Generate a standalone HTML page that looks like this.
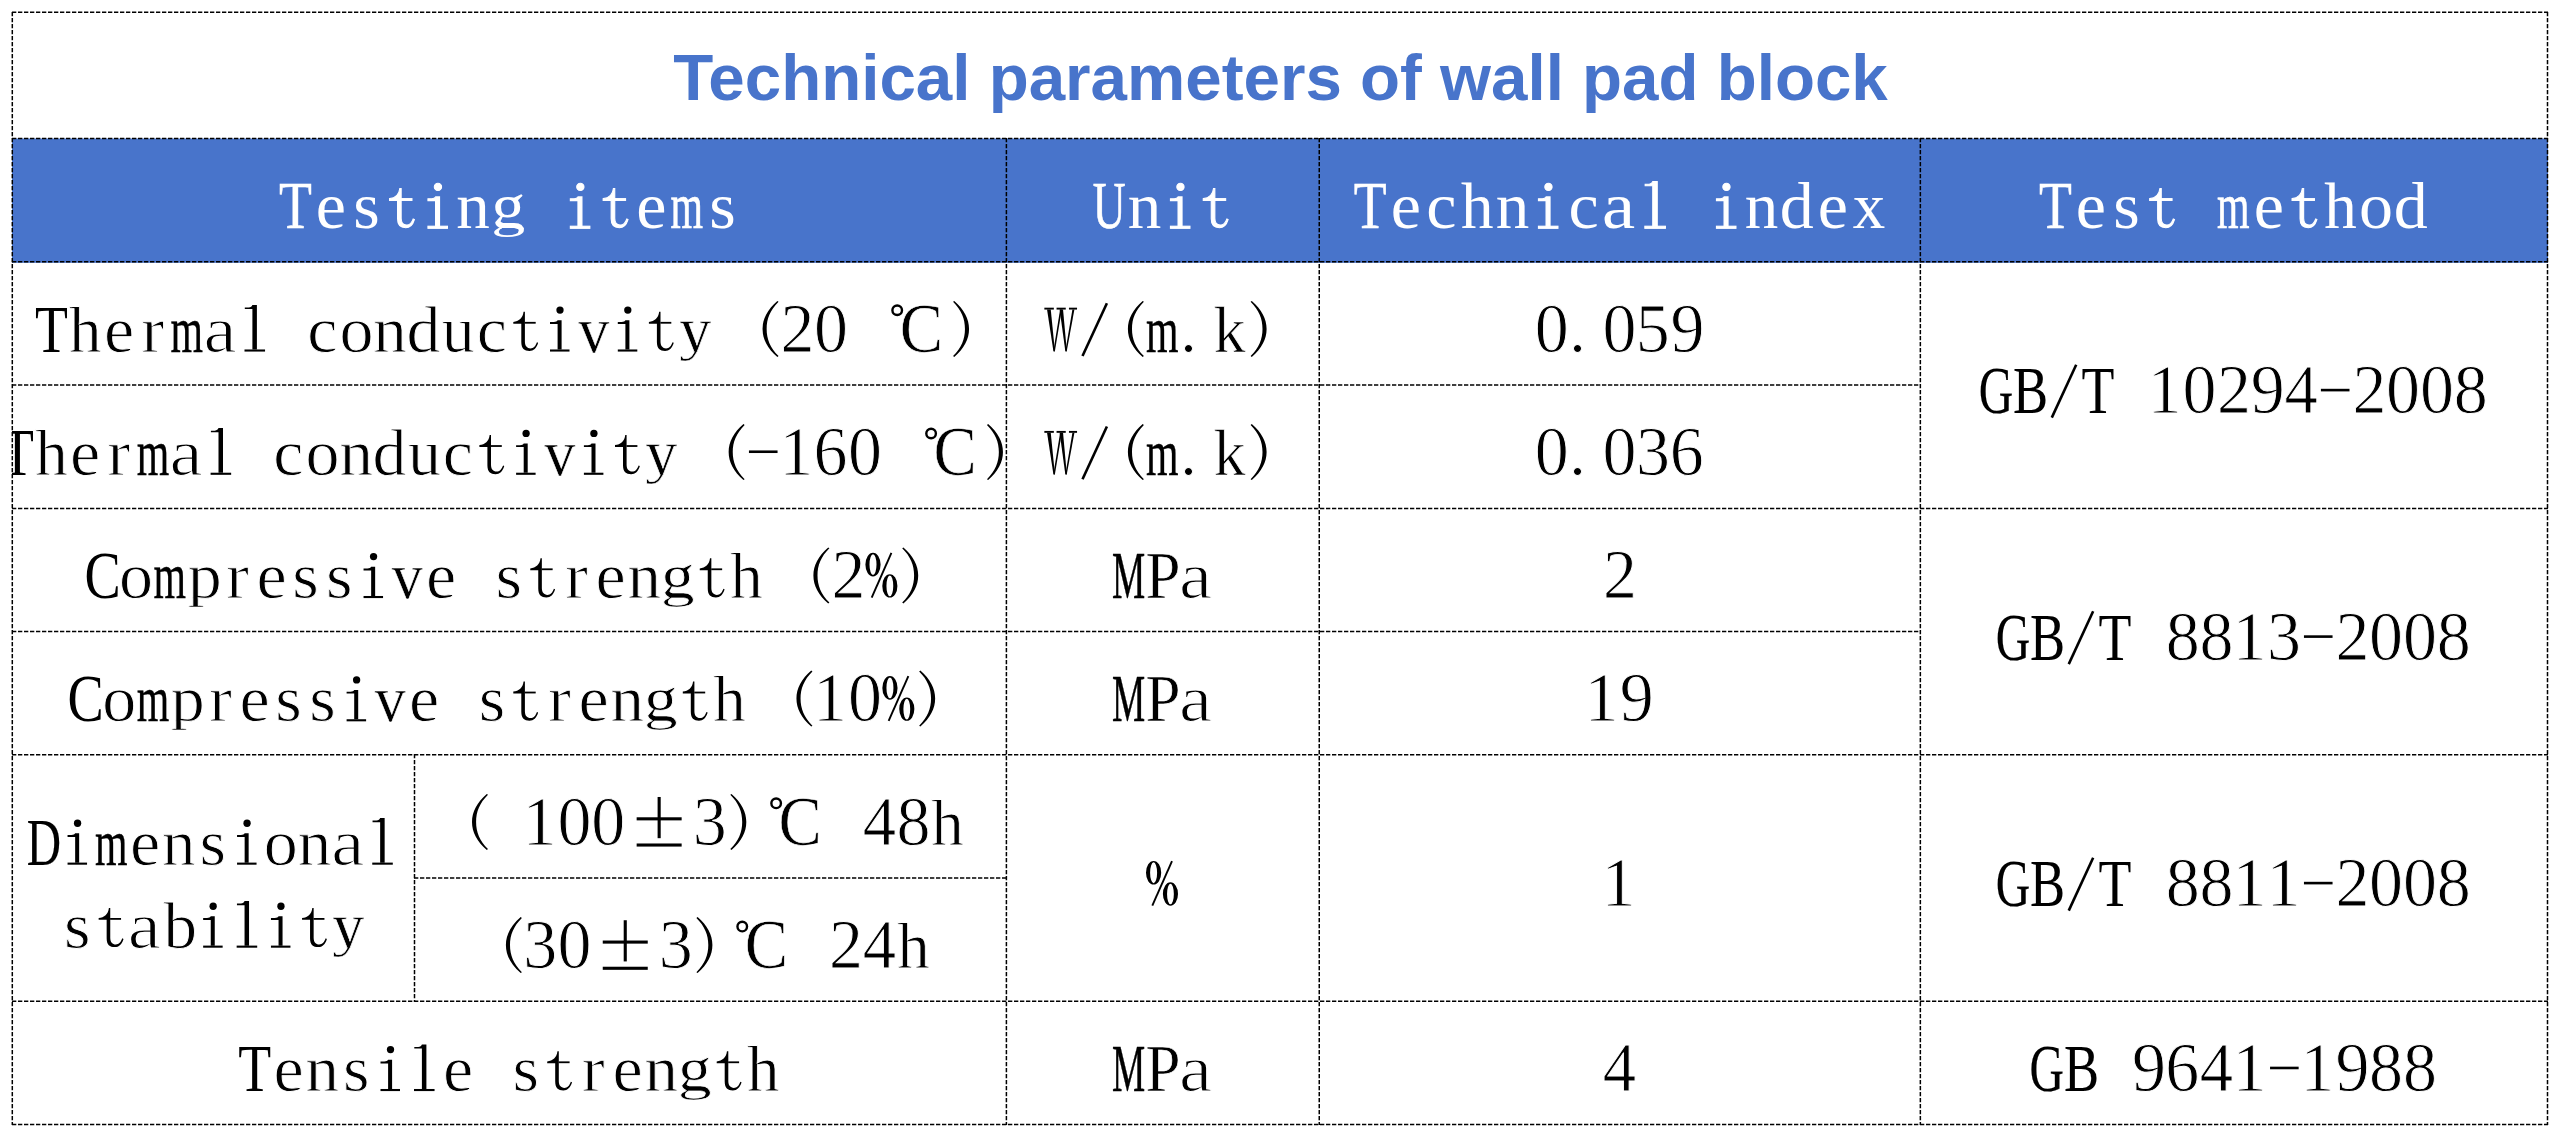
<!DOCTYPE html>
<html><head><meta charset="utf-8"><title>Technical parameters of wall pad block</title>
<style>
html,body{margin:0;padding:0;background:#fff;}
body{width:2560px;height:1137px;overflow:hidden;position:relative;}
svg{position:absolute;left:0;top:0;display:block;}
svg text{font-family:"Liberation Serif", serif;}
svg text.t{font-family:"Liberation Sans", sans-serif;}
</style></head>
<body>
<svg width="2560" height="1137" viewBox="0 0 2560 1137">
<rect x="12" y="138.5" width="2536" height="124.3" fill="#4874CB"/>
<defs><clipPath id="c0"><rect x="12" y="0" width="2548" height="1137"/></clipPath><clipPath id="cl6u"><rect x="469.00" y="148.32" width="80" height="80.7"/></clipPath><clipPath id="cl6d"><rect x="469.00" y="227.62" width="80" height="40"/></clipPath><clipPath id="cl58u"><rect x="655.45" y="271.57" width="80" height="80.7"/></clipPath><clipPath id="cl58d"><rect x="655.45" y="350.88" width="80" height="40"/></clipPath><clipPath id="cl95u"><rect x="621.55" y="394.82" width="80" height="80.7"/></clipPath><clipPath id="cl95d"><rect x="621.55" y="474.12" width="80" height="40"/></clipPath><clipPath id="cl119u"><rect x="163.90" y="518.08" width="80" height="80.7"/></clipPath><clipPath id="cl119d"><rect x="163.90" y="597.38" width="80" height="40"/></clipPath><clipPath id="cl132u"><rect x="638.50" y="518.08" width="80" height="80.7"/></clipPath><clipPath id="cl132d"><rect x="638.50" y="597.38" width="80" height="40"/></clipPath><clipPath id="cl146u"><rect x="146.95" y="641.33" width="80" height="80.7"/></clipPath><clipPath id="cl146d"><rect x="146.95" y="720.62" width="80" height="40"/></clipPath><clipPath id="cl159u"><rect x="621.55" y="641.33" width="80" height="80.7"/></clipPath><clipPath id="cl159d"><rect x="621.55" y="720.62" width="80" height="40"/></clipPath><clipPath id="cl184u"><rect x="655.45" y="1011.08" width="80" height="80.7"/></clipPath><clipPath id="cl184d"><rect x="655.45" y="1090.38" width="80" height="40"/></clipPath><clipPath id="cl261u"><rect x="308.60" y="867.70" width="80" height="80.7"/></clipPath><clipPath id="cl261d"><rect x="308.60" y="947.00" width="80" height="40"/></clipPath></defs>
<g class="t"><text class="t" x="1280.5" y="100.4" text-anchor="middle" font-family="'Liberation Sans', sans-serif" font-weight="bold" font-size="65.5" fill="#4874CB">Technical parameters of wall pad block</text></g>
<g clip-path="url(#c0)">
<text transform="translate(278.93,228.32) scale(0.7912,1.0)" font-size="68.00" fill="#ffffff" stroke="#ffffff" stroke-width="0.52">T</text>
<text transform="translate(315.76,228.32) scale(1.0000,0.96)" font-size="68.00" fill="#ffffff">e</text>
<text transform="translate(353.20,228.32) scale(1.0000,0.96)" font-size="68.00" fill="#ffffff">s</text>
<g stroke="#ffffff" stroke-width="1.1"><path d="M401.15,188.52 L401.15,218.32 C401.15,222.82 403.40,225.12 406.70,225.12 C409.80,225.12 411.80,222.72 413.20,218.92 L414.40,219.52 C412.80,224.92 409.80,227.72 405.70,227.72 C400.60,227.72 397.55,225.52 397.55,218.82 L397.55,200.42 L389.55,200.42 L389.55,198.62 C395.20,198.02 399.10,194.82 399.80,188.52Z" fill="#ffffff"/><rect x="401.00" y="198.62" width="10.95" height="1.8" fill="#ffffff"/></g>
<g stroke="#ffffff" stroke-width="1.1"><path d="M439.55,196.92 L439.55,226.32 L435.55,226.32 L435.55,200.62 L427.95,200.62 L427.95,198.72 L431.80,198.72 C433.80,198.52 435.00,197.82 435.55,196.92Z" fill="#ffffff"/><rect x="427.95" y="226.22" width="19.5" height="2.1" fill="#ffffff"/><circle cx="437.95" cy="186.88" r="3.65" fill="#ffffff"/></g>
<text transform="translate(456.36,228.32) scale(0.9869,0.96)" font-size="68.00" fill="#ffffff">n</text>
<g clip-path="url(#cl6u)"><text transform="translate(491.19,228.32) scale(1.0000,0.96)" font-size="68.00" fill="#ffffff">g</text></g><g clip-path="url(#cl6d)"><text transform="translate(491.19,228.32) scale(1.0000,0.64)" font-size="68.00" fill="#ffffff">g</text></g>
<g stroke="#ffffff" stroke-width="1.1"><path d="M581.95,196.92 L581.95,226.32 L577.95,226.32 L577.95,200.62 L570.35,200.62 L570.35,198.72 L574.20,198.72 C576.20,198.52 577.40,197.82 577.95,196.92Z" fill="#ffffff"/><rect x="570.35" y="226.22" width="19.5" height="2.1" fill="#ffffff"/><circle cx="580.35" cy="186.88" r="3.65" fill="#ffffff"/></g>
<g stroke="#ffffff" stroke-width="1.1"><path d="M614.75,188.52 L614.75,218.32 C614.75,222.82 617.00,225.12 620.30,225.12 C623.40,225.12 625.40,222.72 626.80,218.92 L628.00,219.52 C626.40,224.92 623.40,227.72 619.30,227.72 C614.20,227.72 611.15,225.52 611.15,218.82 L611.15,200.42 L603.15,200.42 L603.15,198.62 C608.80,198.02 612.70,194.82 613.40,188.52Z" fill="#ffffff"/><rect x="614.60" y="198.62" width="10.95" height="1.8" fill="#ffffff"/></g>
<text transform="translate(636.16,228.32) scale(1.0000,0.96)" font-size="68.00" fill="#ffffff">e</text>
<text transform="translate(670.62,228.32) scale(0.6151,0.96)" font-size="68.00" fill="#ffffff" stroke="#ffffff" stroke-width="0.70">m</text>
<text transform="translate(709.20,228.32) scale(1.0000,0.96)" font-size="68.00" fill="#ffffff">s</text>
<text transform="translate(1092.64,228.32) scale(0.6702,1.0)" font-size="68.00" fill="#ffffff" stroke="#ffffff" stroke-width="0.70">U</text>
<text transform="translate(1127.66,228.32) scale(0.9869,0.96)" font-size="68.00" fill="#ffffff">n</text>
<g stroke="#ffffff" stroke-width="1.1"><path d="M1182.05,196.92 L1182.05,226.32 L1178.05,226.32 L1178.05,200.62 L1170.45,200.62 L1170.45,198.72 L1174.30,198.72 C1176.30,198.52 1177.50,197.82 1178.05,196.92Z" fill="#ffffff"/><rect x="1170.45" y="226.22" width="19.5" height="2.1" fill="#ffffff"/><circle cx="1180.45" cy="186.88" r="3.65" fill="#ffffff"/></g>
<g stroke="#ffffff" stroke-width="1.1"><path d="M1214.85,188.52 L1214.85,218.32 C1214.85,222.82 1217.10,225.12 1220.40,225.12 C1223.50,225.12 1225.50,222.72 1226.90,218.92 L1228.10,219.52 C1226.50,224.92 1223.50,227.72 1219.40,227.72 C1214.30,227.72 1211.25,225.52 1211.25,218.82 L1211.25,200.42 L1203.25,200.42 L1203.25,198.62 C1208.90,198.02 1212.80,194.82 1213.50,188.52Z" fill="#ffffff"/><rect x="1214.70" y="198.62" width="10.95" height="1.8" fill="#ffffff"/></g>
<text transform="translate(1353.83,228.32) scale(0.7912,1.0)" font-size="68.00" fill="#ffffff" stroke="#ffffff" stroke-width="0.52">T</text>
<text transform="translate(1390.66,228.32) scale(1.0000,0.96)" font-size="68.00" fill="#ffffff">e</text>
<text transform="translate(1426.16,228.32) scale(1.0000,0.96)" font-size="68.00" fill="#ffffff">c</text>
<text transform="translate(1460.97,228.32) scale(0.9556,0.96)" font-size="68.00" fill="#ffffff" stroke="#ffffff" stroke-width="0.09">h</text>
<text transform="translate(1495.66,228.32) scale(0.9869,0.96)" font-size="68.00" fill="#ffffff">n</text>
<g stroke="#ffffff" stroke-width="1.1"><path d="M1550.05,196.92 L1550.05,226.32 L1546.05,226.32 L1546.05,200.62 L1538.45,200.62 L1538.45,198.72 L1542.30,198.72 C1544.30,198.52 1545.50,197.82 1546.05,196.92Z" fill="#ffffff"/><rect x="1538.45" y="226.22" width="19.5" height="2.1" fill="#ffffff"/><circle cx="1548.45" cy="186.88" r="3.65" fill="#ffffff"/></g>
<text transform="translate(1568.56,228.32) scale(1.0000,0.96)" font-size="68.00" fill="#ffffff">c</text>
<text transform="translate(1602.12,228.32) scale(1.0982,0.96)" font-size="68.00" fill="#ffffff">a</text>
<g stroke="#ffffff" stroke-width="1.1"><path d="M1657.25,181.62 L1657.25,226.32 L1652.75,226.32 L1652.75,185.82 L1645.15,185.82 L1645.15,184.22 L1649.10,184.22 C1651.10,183.92 1652.20,183.02 1652.75,181.62Z" fill="#ffffff"/><rect x="1644.85" y="226.22" width="20.55" height="2.1" fill="#ffffff"/></g>
<g stroke="#ffffff" stroke-width="1.1"><path d="M1728.05,196.92 L1728.05,226.32 L1724.05,226.32 L1724.05,200.62 L1716.45,200.62 L1716.45,198.72 L1720.30,198.72 C1722.30,198.52 1723.50,197.82 1724.05,196.92Z" fill="#ffffff"/><rect x="1716.45" y="226.22" width="19.5" height="2.1" fill="#ffffff"/><circle cx="1726.45" cy="186.88" r="3.65" fill="#ffffff"/></g>
<text transform="translate(1744.86,228.32) scale(0.9869,0.96)" font-size="68.00" fill="#ffffff">n</text>
<text transform="translate(1779.69,228.32) scale(1.0000,0.96)" font-size="68.00" fill="#ffffff">d</text>
<text transform="translate(1817.86,228.32) scale(1.0000,0.96)" font-size="68.00" fill="#ffffff">e</text>
<text transform="translate(1852.63,228.32) scale(0.9517,0.96)" font-size="68.00" fill="#ffffff" stroke="#ffffff" stroke-width="0.10">x</text>
<text transform="translate(2039.03,228.32) scale(0.7912,1.0)" font-size="68.00" fill="#ffffff" stroke="#ffffff" stroke-width="0.52">T</text>
<text transform="translate(2075.86,228.32) scale(1.0000,0.96)" font-size="68.00" fill="#ffffff">e</text>
<text transform="translate(2113.30,228.32) scale(1.0000,0.96)" font-size="68.00" fill="#ffffff">s</text>
<g stroke="#ffffff" stroke-width="1.1"><path d="M2161.25,188.52 L2161.25,218.32 C2161.25,222.82 2163.50,225.12 2166.80,225.12 C2169.90,225.12 2171.90,222.72 2173.30,218.92 L2174.50,219.52 C2172.90,224.92 2169.90,227.72 2165.80,227.72 C2160.70,227.72 2157.65,225.52 2157.65,218.82 L2157.65,200.42 L2149.65,200.42 L2149.65,198.62 C2155.30,198.02 2159.20,194.82 2159.90,188.52Z" fill="#ffffff"/><rect x="2161.10" y="198.62" width="10.95" height="1.8" fill="#ffffff"/></g>
<text transform="translate(2217.12,228.32) scale(0.6151,0.96)" font-size="68.00" fill="#ffffff" stroke="#ffffff" stroke-width="0.70">m</text>
<text transform="translate(2253.86,228.32) scale(1.0000,0.96)" font-size="68.00" fill="#ffffff">e</text>
<g stroke="#ffffff" stroke-width="1.1"><path d="M2303.65,188.52 L2303.65,218.32 C2303.65,222.82 2305.90,225.12 2309.20,225.12 C2312.30,225.12 2314.30,222.72 2315.70,218.92 L2316.90,219.52 C2315.30,224.92 2312.30,227.72 2308.20,227.72 C2303.10,227.72 2300.05,225.52 2300.05,218.82 L2300.05,200.42 L2292.05,200.42 L2292.05,198.62 C2297.70,198.02 2301.60,194.82 2302.30,188.52Z" fill="#ffffff"/><rect x="2303.50" y="198.62" width="10.95" height="1.8" fill="#ffffff"/></g>
<text transform="translate(2324.17,228.32) scale(0.9556,0.96)" font-size="68.00" fill="#ffffff" stroke="#ffffff" stroke-width="0.09">h</text>
<text transform="translate(2358.90,228.32) scale(1.0000,0.96)" font-size="68.00" fill="#ffffff">o</text>
<text transform="translate(2393.69,228.32) scale(1.0000,0.96)" font-size="68.00" fill="#ffffff">d</text>
<text transform="translate(34.88,351.57) scale(0.7912,1.0)" font-size="68.00" fill="#000">T</text>
<text transform="translate(69.12,351.57) scale(0.9556,0.96)" font-size="68.00" fill="#000" stroke="#fff" stroke-width="0.79">h</text>
<text transform="translate(103.91,351.57) scale(1.0000,0.96)" font-size="68.00" fill="#000" stroke="#fff" stroke-width="0.90">e</text>
<text transform="translate(141.17,351.57) scale(1.0152,0.96)" font-size="68.00" fill="#000" stroke="#fff" stroke-width="1.07">r</text>
<text transform="translate(170.57,351.57) scale(0.6151,0.96)" font-size="68.00" fill="#000" stroke="#000" stroke-width="0.41">m</text>
<text transform="translate(203.47,351.57) scale(1.0982,0.96)" font-size="68.00" fill="#000" stroke="#fff" stroke-width="1.30">a</text>
<path d="M256.90,304.88 L256.90,349.57 L252.40,349.57 L252.40,309.07 L244.80,309.07 L244.80,307.47 L248.75,307.47 C250.75,307.18 251.85,306.27 252.40,304.88Z" fill="#000"/><rect x="244.50" y="349.47" width="20.55" height="2.1" fill="#000"/>
<text transform="translate(307.21,351.57) scale(1.0000,0.96)" font-size="68.00" fill="#000" stroke="#fff" stroke-width="0.90">c</text>
<text transform="translate(339.45,351.57) scale(1.0000,0.96)" font-size="68.00" fill="#000" stroke="#fff" stroke-width="0.90">o</text>
<text transform="translate(373.31,351.57) scale(0.9869,0.96)" font-size="68.00" fill="#000" stroke="#fff" stroke-width="0.90">n</text>
<text transform="translate(406.44,351.57) scale(1.0000,0.96)" font-size="68.00" fill="#000" stroke="#fff" stroke-width="0.90">d</text>
<text transform="translate(441.78,351.57) scale(0.9705,0.96)" font-size="68.00" fill="#000" stroke="#fff" stroke-width="0.86">u</text>
<text transform="translate(476.71,351.57) scale(1.0000,0.96)" font-size="68.00" fill="#000" stroke="#fff" stroke-width="0.90">c</text>
<path d="M524.90,311.77 L524.90,341.57 C524.90,346.07 527.15,348.38 530.45,348.38 C533.55,348.38 535.55,345.97 536.95,342.18 L538.15,342.77 C536.55,348.18 533.55,350.97 529.45,350.97 C524.35,350.97 521.30,348.77 521.30,342.07 L521.30,323.68 L513.30,323.68 L513.30,321.88 C518.95,321.27 522.85,318.07 523.55,311.77Z" fill="#000"/><rect x="524.75" y="321.88" width="10.95" height="1.8" fill="#000"/>
<path d="M561.60,320.18 L561.60,349.57 L557.60,349.57 L557.60,323.88 L550.00,323.88 L550.00,321.97 L553.85,321.97 C555.85,321.77 557.05,321.07 557.60,320.18Z" fill="#000"/><rect x="550.00" y="349.47" width="19.5" height="2.1" fill="#000"/><circle cx="560.00" cy="310.12" r="3.65" fill="#000"/>
<text transform="translate(578.25,351.57) scale(0.9118,0.96)" font-size="68.00" fill="#000" stroke="#fff" stroke-width="0.55">v</text>
<path d="M629.40,320.18 L629.40,349.57 L625.40,349.57 L625.40,323.88 L617.80,323.88 L617.80,321.97 L621.65,321.97 C623.65,321.77 624.85,321.07 625.40,320.18Z" fill="#000"/><rect x="617.80" y="349.47" width="19.5" height="2.1" fill="#000"/><circle cx="627.80" cy="310.12" r="3.65" fill="#000"/>
<path d="M660.50,311.77 L660.50,341.57 C660.50,346.07 662.75,348.38 666.05,348.38 C669.15,348.38 671.15,345.97 672.55,342.18 L673.75,342.77 C672.15,348.18 669.15,350.97 665.05,350.97 C659.95,350.97 656.90,348.77 656.90,342.07 L656.90,323.68 L648.90,323.68 L648.90,321.88 C654.55,321.27 658.45,318.07 659.15,311.77Z" fill="#000"/><rect x="660.35" y="321.88" width="10.95" height="1.8" fill="#000"/>
<g clip-path="url(#cl58u)"><text transform="translate(679.17,351.57) scale(0.9421,0.96)" font-size="68.00" fill="#000" stroke="#fff" stroke-width="0.72">y</text></g><g clip-path="url(#cl58d)"><text transform="translate(679.17,351.57) scale(0.9421,0.64)" font-size="68.00" fill="#000" stroke="#fff" stroke-width="0.72">y</text></g>
<path d="M777.35,300.88 C767.45,309.57 762.55,318.57 762.55,328.88 C762.55,339.18 767.45,348.18 777.35,356.88 L778.55,355.97 C770.05,347.57 766.65,338.88 766.65,328.88 C766.65,318.88 770.05,310.18 778.55,301.77Z" fill="#000"/>
<text transform="translate(780.53,351.57) scale(1.0000,1.025)" font-size="68.00" fill="#000" stroke="#fff" stroke-width="0.90">2</text>
<text transform="translate(814.05,351.57) scale(1.0000,1.025)" font-size="68.00" fill="#000" stroke="#fff" stroke-width="0.90">0</text>
<circle cx="897.20" cy="310.27" r="4.8" fill="none" stroke="#000" stroke-width="2.4"/>
<text transform="translate(899.64,351.57) scale(0.9210,1.0)" font-size="70.38" fill="#000" stroke="#fff" stroke-width="0.61">C</text>
<path d="M954.25,300.88 C964.15,309.57 969.05,318.57 969.05,328.88 C969.05,339.18 964.15,348.18 954.25,356.88 L953.05,355.97 C961.55,347.57 964.95,338.88 964.95,328.88 C964.95,318.88 961.55,310.18 953.05,301.77Z" fill="#000"/>
<path d="M1047.05,309.57 L1050.75,309.57 L1054.90,350.97 L1054.15,351.88 L1053.40,350.97Z" fill="#000"/><path d="M1053.50,350.38 L1060.10,309.57 L1061.80,309.57 L1054.90,350.97Z" fill="#000"/><path d="M1059.65,309.57 L1063.05,309.57 L1066.80,350.97 L1066.05,351.88 L1065.30,350.97Z" fill="#000"/><path d="M1065.50,350.57 L1072.40,309.57 L1074.40,309.57 L1066.80,350.97Z" fill="#000"/><path d="M1044.35,307.68 L1053.85,307.68 L1053.85,309.57 L1044.35,309.57Z" fill="#000"/><path d="M1056.55,307.68 L1065.75,307.68 L1065.75,309.57 L1056.55,309.57Z" fill="#000"/><path d="M1068.95,307.68 L1077.05,307.68 L1077.05,309.57 L1068.95,309.57Z" fill="#000"/>
<line x1="1082.50" y1="355.97" x2="1106.90" y2="303.18" stroke="#000" stroke-width="2.6"/>
<path d="M1142.70,300.88 C1132.80,309.57 1127.90,318.57 1127.90,328.88 C1127.90,339.18 1132.80,348.18 1142.70,356.88 L1143.90,355.97 C1135.40,347.57 1132.00,338.88 1132.00,328.88 C1132.00,318.88 1135.40,310.18 1143.90,301.77Z" fill="#000"/>
<text transform="translate(1146.12,351.57) scale(0.6151,0.96)" font-size="68.00" fill="#000" stroke="#000" stroke-width="0.41">m</text>
<text x="1179.90" y="351.57" font-size="68.00" fill="#000" stroke="#fff" stroke-width="0.90">.</text>
<text transform="translate(1213.57,351.57) scale(0.9479,0.96)" font-size="68.00" fill="#000" stroke="#fff" stroke-width="0.75">k</text>
<path d="M1251.80,300.88 C1261.70,309.57 1266.60,318.57 1266.60,328.88 C1266.60,339.18 1261.70,348.18 1251.80,356.88 L1250.60,355.97 C1259.10,347.57 1262.50,338.88 1262.50,328.88 C1262.50,318.88 1259.10,310.18 1250.60,301.77Z" fill="#000"/>
<text transform="translate(1534.70,351.57) scale(1.0000,1.025)" font-size="68.00" fill="#000" stroke="#fff" stroke-width="0.90">0</text>
<text x="1569.10" y="351.57" font-size="68.00" fill="#000" stroke="#fff" stroke-width="0.90">.</text>
<text transform="translate(1602.50,351.57) scale(1.0000,1.025)" font-size="68.00" fill="#000" stroke="#fff" stroke-width="0.90">0</text>
<text transform="translate(1635.75,351.57) scale(1.0000,1.025)" font-size="68.00" fill="#000" stroke="#fff" stroke-width="0.90">5</text>
<text transform="translate(1670.60,351.57) scale(1.0000,1.025)" font-size="68.00" fill="#000" stroke="#fff" stroke-width="0.90">9</text>
<text transform="translate(0.98,474.82) scale(0.7912,1.0)" font-size="68.00" fill="#000">T</text>
<text transform="translate(35.22,474.82) scale(0.9556,0.96)" font-size="68.00" fill="#000" stroke="#fff" stroke-width="0.79">h</text>
<text transform="translate(70.01,474.82) scale(1.0000,0.96)" font-size="68.00" fill="#000" stroke="#fff" stroke-width="0.90">e</text>
<text transform="translate(107.27,474.82) scale(1.0152,0.96)" font-size="68.00" fill="#000" stroke="#fff" stroke-width="1.07">r</text>
<text transform="translate(136.67,474.82) scale(0.6151,0.96)" font-size="68.00" fill="#000" stroke="#000" stroke-width="0.41">m</text>
<text transform="translate(169.57,474.82) scale(1.0982,0.96)" font-size="68.00" fill="#000" stroke="#fff" stroke-width="1.30">a</text>
<path d="M223.00,428.12 L223.00,472.82 L218.50,472.82 L218.50,432.32 L210.90,432.32 L210.90,430.72 L214.85,430.72 C216.85,430.43 217.95,429.52 218.50,428.12Z" fill="#000"/><rect x="210.60" y="472.72" width="20.55" height="2.1" fill="#000"/>
<text transform="translate(273.31,474.82) scale(1.0000,0.96)" font-size="68.00" fill="#000" stroke="#fff" stroke-width="0.90">c</text>
<text transform="translate(305.55,474.82) scale(1.0000,0.96)" font-size="68.00" fill="#000" stroke="#fff" stroke-width="0.90">o</text>
<text transform="translate(339.41,474.82) scale(0.9869,0.96)" font-size="68.00" fill="#000" stroke="#fff" stroke-width="0.90">n</text>
<text transform="translate(372.54,474.82) scale(1.0000,0.96)" font-size="68.00" fill="#000" stroke="#fff" stroke-width="0.90">d</text>
<text transform="translate(407.88,474.82) scale(0.9705,0.96)" font-size="68.00" fill="#000" stroke="#fff" stroke-width="0.86">u</text>
<text transform="translate(442.81,474.82) scale(1.0000,0.96)" font-size="68.00" fill="#000" stroke="#fff" stroke-width="0.90">c</text>
<path d="M491.00,435.02 L491.00,464.82 C491.00,469.32 493.25,471.62 496.55,471.62 C499.65,471.62 501.65,469.22 503.05,465.43 L504.25,466.02 C502.65,471.43 499.65,474.22 495.55,474.22 C490.45,474.22 487.40,472.02 487.40,465.32 L487.40,446.93 L479.40,446.93 L479.40,445.12 C485.05,444.52 488.95,441.32 489.65,435.02Z" fill="#000"/><rect x="490.85" y="445.12" width="10.95" height="1.8" fill="#000"/>
<path d="M527.70,443.43 L527.70,472.82 L523.70,472.82 L523.70,447.12 L516.10,447.12 L516.10,445.22 L519.95,445.22 C521.95,445.02 523.15,444.32 523.70,443.43Z" fill="#000"/><rect x="516.10" y="472.72" width="19.5" height="2.1" fill="#000"/><circle cx="526.10" cy="433.38" r="3.65" fill="#000"/>
<text transform="translate(544.35,474.82) scale(0.9118,0.96)" font-size="68.00" fill="#000" stroke="#fff" stroke-width="0.55">v</text>
<path d="M595.50,443.43 L595.50,472.82 L591.50,472.82 L591.50,447.12 L583.90,447.12 L583.90,445.22 L587.75,445.22 C589.75,445.02 590.95,444.32 591.50,443.43Z" fill="#000"/><rect x="583.90" y="472.72" width="19.5" height="2.1" fill="#000"/><circle cx="593.90" cy="433.38" r="3.65" fill="#000"/>
<path d="M626.60,435.02 L626.60,464.82 C626.60,469.32 628.85,471.62 632.15,471.62 C635.25,471.62 637.25,469.22 638.65,465.43 L639.85,466.02 C638.25,471.43 635.25,474.22 631.15,474.22 C626.05,474.22 623.00,472.02 623.00,465.32 L623.00,446.93 L615.00,446.93 L615.00,445.12 C620.65,444.52 624.55,441.32 625.25,435.02Z" fill="#000"/><rect x="626.45" y="445.12" width="10.95" height="1.8" fill="#000"/>
<g clip-path="url(#cl95u)"><text transform="translate(645.27,474.82) scale(0.9421,0.96)" font-size="68.00" fill="#000" stroke="#fff" stroke-width="0.72">y</text></g><g clip-path="url(#cl95d)"><text transform="translate(645.27,474.82) scale(0.9421,0.64)" font-size="68.00" fill="#000" stroke="#fff" stroke-width="0.72">y</text></g>
<path d="M743.45,424.12 C733.55,432.82 728.65,441.82 728.65,452.12 C728.65,462.43 733.55,471.43 743.45,480.12 L744.65,479.22 C736.15,470.82 732.75,462.12 732.75,452.12 C732.75,442.12 736.15,433.43 744.65,425.02Z" fill="#000"/>
<rect x="748.95" y="450.43" width="28.6" height="2.6" fill="#000"/>
<text transform="translate(779.20,474.82) scale(1.0000,1.025)" font-size="68.00" fill="#000" stroke="#fff" stroke-width="0.90">1</text>
<text transform="translate(813.60,474.82) scale(1.0000,1.025)" font-size="68.00" fill="#000" stroke="#fff" stroke-width="0.90">6</text>
<text transform="translate(847.95,474.82) scale(1.0000,1.025)" font-size="68.00" fill="#000" stroke="#fff" stroke-width="0.90">0</text>
<circle cx="931.10" cy="433.52" r="4.8" fill="none" stroke="#000" stroke-width="2.4"/>
<text transform="translate(933.54,474.82) scale(0.9210,1.0)" font-size="70.38" fill="#000" stroke="#fff" stroke-width="0.61">C</text>
<path d="M988.15,424.12 C998.05,432.82 1002.95,441.82 1002.95,452.12 C1002.95,462.43 998.05,471.43 988.15,480.12 L986.95,479.22 C995.45,470.82 998.85,462.12 998.85,452.12 C998.85,442.12 995.45,433.43 986.95,425.02Z" fill="#000"/>
<path d="M1047.05,432.82 L1050.75,432.82 L1054.90,474.22 L1054.15,475.12 L1053.40,474.22Z" fill="#000"/><path d="M1053.50,473.62 L1060.10,432.82 L1061.80,432.82 L1054.90,474.22Z" fill="#000"/><path d="M1059.65,432.82 L1063.05,432.82 L1066.80,474.22 L1066.05,475.12 L1065.30,474.22Z" fill="#000"/><path d="M1065.50,473.82 L1072.40,432.82 L1074.40,432.82 L1066.80,474.22Z" fill="#000"/><path d="M1044.35,430.93 L1053.85,430.93 L1053.85,432.82 L1044.35,432.82Z" fill="#000"/><path d="M1056.55,430.93 L1065.75,430.93 L1065.75,432.82 L1056.55,432.82Z" fill="#000"/><path d="M1068.95,430.93 L1077.05,430.93 L1077.05,432.82 L1068.95,432.82Z" fill="#000"/>
<line x1="1082.50" y1="479.22" x2="1106.90" y2="426.43" stroke="#000" stroke-width="2.6"/>
<path d="M1142.70,424.12 C1132.80,432.82 1127.90,441.82 1127.90,452.12 C1127.90,462.43 1132.80,471.43 1142.70,480.12 L1143.90,479.22 C1135.40,470.82 1132.00,462.12 1132.00,452.12 C1132.00,442.12 1135.40,433.43 1143.90,425.02Z" fill="#000"/>
<text transform="translate(1146.12,474.82) scale(0.6151,0.96)" font-size="68.00" fill="#000" stroke="#000" stroke-width="0.41">m</text>
<text x="1179.90" y="474.82" font-size="68.00" fill="#000" stroke="#fff" stroke-width="0.90">.</text>
<text transform="translate(1213.57,474.82) scale(0.9479,0.96)" font-size="68.00" fill="#000" stroke="#fff" stroke-width="0.75">k</text>
<path d="M1251.80,424.12 C1261.70,432.82 1266.60,441.82 1266.60,452.12 C1266.60,462.43 1261.70,471.43 1251.80,480.12 L1250.60,479.22 C1259.10,470.82 1262.50,462.12 1262.50,452.12 C1262.50,442.12 1259.10,433.43 1250.60,425.02Z" fill="#000"/>
<text transform="translate(1534.70,474.82) scale(1.0000,1.025)" font-size="68.00" fill="#000" stroke="#fff" stroke-width="0.90">0</text>
<text x="1569.10" y="474.82" font-size="68.00" fill="#000" stroke="#fff" stroke-width="0.90">.</text>
<text transform="translate(1602.50,474.82) scale(1.0000,1.025)" font-size="68.00" fill="#000" stroke="#fff" stroke-width="0.90">0</text>
<text transform="translate(1636.10,474.82) scale(1.0000,1.025)" font-size="68.00" fill="#000" stroke="#fff" stroke-width="0.90">3</text>
<text transform="translate(1669.85,474.82) scale(1.0000,1.025)" font-size="68.00" fill="#000" stroke="#fff" stroke-width="0.90">6</text>
<text transform="translate(84.47,598.08) scale(0.7987,1.0)" font-size="68.00" fill="#000">C</text>
<text transform="translate(119.10,598.08) scale(1.0000,0.96)" font-size="68.00" fill="#000" stroke="#fff" stroke-width="0.90">o</text>
<text transform="translate(153.62,598.08) scale(0.6151,0.96)" font-size="68.00" fill="#000" stroke="#000" stroke-width="0.41">m</text>
<g clip-path="url(#cl119u)"><text transform="translate(187.68,598.08) scale(1.0000,0.96)" font-size="68.00" fill="#000" stroke="#fff" stroke-width="0.90">p</text></g><g clip-path="url(#cl119d)"><text transform="translate(187.68,598.08) scale(1.0000,0.64)" font-size="68.00" fill="#000" stroke="#fff" stroke-width="0.90">p</text></g>
<text transform="translate(225.92,598.08) scale(1.0152,0.96)" font-size="68.00" fill="#000" stroke="#fff" stroke-width="1.07">r</text>
<text transform="translate(256.46,598.08) scale(1.0000,0.96)" font-size="68.00" fill="#000" stroke="#fff" stroke-width="0.90">e</text>
<text transform="translate(292.20,598.08) scale(1.0000,0.96)" font-size="68.00" fill="#000" stroke="#fff" stroke-width="0.90">s</text>
<text transform="translate(326.10,598.08) scale(1.0000,0.96)" font-size="68.00" fill="#000" stroke="#fff" stroke-width="0.90">s</text>
<path d="M375.15,566.68 L375.15,596.08 L371.15,596.08 L371.15,570.38 L363.55,570.38 L363.55,568.48 L367.40,568.48 C369.40,568.28 370.60,567.58 371.15,566.68Z" fill="#000"/><rect x="363.55" y="595.98" width="19.5" height="2.1" fill="#000"/><circle cx="373.55" cy="556.62" r="3.65" fill="#000"/>
<text transform="translate(391.80,598.08) scale(0.9118,0.96)" font-size="68.00" fill="#000" stroke="#fff" stroke-width="0.55">v</text>
<text transform="translate(425.96,598.08) scale(1.0000,0.96)" font-size="68.00" fill="#000" stroke="#fff" stroke-width="0.90">e</text>
<text transform="translate(495.60,598.08) scale(1.0000,0.96)" font-size="68.00" fill="#000" stroke="#fff" stroke-width="0.90">s</text>
<path d="M541.85,558.28 L541.85,588.08 C541.85,592.58 544.10,594.88 547.40,594.88 C550.50,594.88 552.50,592.48 553.90,588.68 L555.10,589.28 C553.50,594.68 550.50,597.48 546.40,597.48 C541.30,597.48 538.25,595.28 538.25,588.58 L538.25,570.18 L530.25,570.18 L530.25,568.38 C535.90,567.78 539.80,564.58 540.50,558.28Z" fill="#000"/><rect x="541.70" y="568.38" width="10.95" height="1.8" fill="#000"/>
<text transform="translate(564.92,598.08) scale(1.0152,0.96)" font-size="68.00" fill="#000" stroke="#fff" stroke-width="1.07">r</text>
<text transform="translate(595.46,598.08) scale(1.0000,0.96)" font-size="68.00" fill="#000" stroke="#fff" stroke-width="0.90">e</text>
<text transform="translate(627.56,598.08) scale(0.9869,0.96)" font-size="68.00" fill="#000" stroke="#fff" stroke-width="0.90">n</text>
<g clip-path="url(#cl132u)"><text transform="translate(660.69,598.08) scale(1.0000,0.96)" font-size="68.00" fill="#000" stroke="#fff" stroke-width="0.90">g</text></g><g clip-path="url(#cl132d)"><text transform="translate(660.69,598.08) scale(1.0000,0.64)" font-size="68.00" fill="#000" stroke="#fff" stroke-width="0.90">g</text></g>
<path d="M711.35,558.28 L711.35,588.08 C711.35,592.58 713.60,594.88 716.90,594.88 C720.00,594.88 722.00,592.48 723.40,588.68 L724.60,589.28 C723.00,594.68 720.00,597.48 715.90,597.48 C710.80,597.48 707.75,595.28 707.75,588.58 L707.75,570.18 L699.75,570.18 L699.75,568.38 C705.40,567.78 709.30,564.58 710.00,558.28Z" fill="#000"/><rect x="711.20" y="568.38" width="10.95" height="1.8" fill="#000"/>
<text transform="translate(730.17,598.08) scale(0.9556,0.96)" font-size="68.00" fill="#000" stroke="#fff" stroke-width="0.79">h</text>
<path d="M828.20,547.38 C818.30,556.08 813.40,565.08 813.40,575.38 C813.40,585.68 818.30,594.68 828.20,603.38 L829.40,602.48 C820.90,594.08 817.50,585.38 817.50,575.38 C817.50,565.38 820.90,556.68 829.40,548.28Z" fill="#000"/>
<text transform="translate(831.38,598.08) scale(1.0000,1.025)" font-size="68.00" fill="#000" stroke="#fff" stroke-width="0.90">2</text>
<path d="M865.40,564.62a7.6,11.85 0 1,0 15.2,0a7.6,11.85 0 1,0 -15.2,0ZM869.50,564.62a3.5,10.4 0 1,0 7.0,0a3.5,10.4 0 1,0 -7.0,0ZM882.30,585.88a7.55,11.7 0 1,0 15.1,0a7.55,11.7 0 1,0 -15.1,0ZM886.45,585.88a3.4,10.3 0 1,0 6.8,0a3.4,10.3 0 1,0 -6.8,0Z" fill="#000" fill-rule="evenodd"/><line x1="871.70" y1="597.58" x2="891.40" y2="552.98" stroke="#000" stroke-width="1.9"/>
<path d="M903.40,547.38 C913.30,556.08 918.20,565.08 918.20,575.38 C918.20,585.68 913.30,594.68 903.40,603.38 L902.20,602.48 C910.70,594.08 914.10,585.38 914.10,575.38 C914.10,565.38 910.70,556.68 902.20,548.28Z" fill="#000"/>
<text transform="translate(1112.03,598.08) scale(0.5486,1.0)" font-size="68.00" fill="#000" stroke="#000" stroke-width="0.50">M</text>
<text transform="translate(1145.17,598.08) scale(0.9355,1.0)" font-size="68.00" fill="#000" stroke="#fff" stroke-width="0.68">P</text>
<text transform="translate(1179.02,598.08) scale(1.0982,0.96)" font-size="68.00" fill="#000" stroke="#fff" stroke-width="1.30">a</text>
<text transform="translate(1602.88,598.08) scale(1.0000,1.025)" font-size="68.00" fill="#000" stroke="#fff" stroke-width="0.90">2</text>
<text transform="translate(67.52,721.33) scale(0.7987,1.0)" font-size="68.00" fill="#000">C</text>
<text transform="translate(102.15,721.33) scale(1.0000,0.96)" font-size="68.00" fill="#000" stroke="#fff" stroke-width="0.90">o</text>
<text transform="translate(136.67,721.33) scale(0.6151,0.96)" font-size="68.00" fill="#000" stroke="#000" stroke-width="0.41">m</text>
<g clip-path="url(#cl146u)"><text transform="translate(170.73,721.33) scale(1.0000,0.96)" font-size="68.00" fill="#000" stroke="#fff" stroke-width="0.90">p</text></g><g clip-path="url(#cl146d)"><text transform="translate(170.73,721.33) scale(1.0000,0.64)" font-size="68.00" fill="#000" stroke="#fff" stroke-width="0.90">p</text></g>
<text transform="translate(208.97,721.33) scale(1.0152,0.96)" font-size="68.00" fill="#000" stroke="#fff" stroke-width="1.07">r</text>
<text transform="translate(239.51,721.33) scale(1.0000,0.96)" font-size="68.00" fill="#000" stroke="#fff" stroke-width="0.90">e</text>
<text transform="translate(275.25,721.33) scale(1.0000,0.96)" font-size="68.00" fill="#000" stroke="#fff" stroke-width="0.90">s</text>
<text transform="translate(309.15,721.33) scale(1.0000,0.96)" font-size="68.00" fill="#000" stroke="#fff" stroke-width="0.90">s</text>
<path d="M358.20,689.93 L358.20,719.33 L354.20,719.33 L354.20,693.62 L346.60,693.62 L346.60,691.73 L350.45,691.73 C352.45,691.53 353.65,690.83 354.20,689.93Z" fill="#000"/><rect x="346.60" y="719.23" width="19.5" height="2.1" fill="#000"/><circle cx="356.60" cy="679.88" r="3.65" fill="#000"/>
<text transform="translate(374.85,721.33) scale(0.9118,0.96)" font-size="68.00" fill="#000" stroke="#fff" stroke-width="0.55">v</text>
<text transform="translate(409.01,721.33) scale(1.0000,0.96)" font-size="68.00" fill="#000" stroke="#fff" stroke-width="0.90">e</text>
<text transform="translate(478.65,721.33) scale(1.0000,0.96)" font-size="68.00" fill="#000" stroke="#fff" stroke-width="0.90">s</text>
<path d="M524.90,681.53 L524.90,711.33 C524.90,715.83 527.15,718.12 530.45,718.12 C533.55,718.12 535.55,715.73 536.95,711.93 L538.15,712.53 C536.55,717.93 533.55,720.73 529.45,720.73 C524.35,720.73 521.30,718.53 521.30,711.83 L521.30,693.43 L513.30,693.43 L513.30,691.62 C518.95,691.03 522.85,687.83 523.55,681.53Z" fill="#000"/><rect x="524.75" y="691.62" width="10.95" height="1.8" fill="#000"/>
<text transform="translate(547.97,721.33) scale(1.0152,0.96)" font-size="68.00" fill="#000" stroke="#fff" stroke-width="1.07">r</text>
<text transform="translate(578.51,721.33) scale(1.0000,0.96)" font-size="68.00" fill="#000" stroke="#fff" stroke-width="0.90">e</text>
<text transform="translate(610.61,721.33) scale(0.9869,0.96)" font-size="68.00" fill="#000" stroke="#fff" stroke-width="0.90">n</text>
<g clip-path="url(#cl159u)"><text transform="translate(643.74,721.33) scale(1.0000,0.96)" font-size="68.00" fill="#000" stroke="#fff" stroke-width="0.90">g</text></g><g clip-path="url(#cl159d)"><text transform="translate(643.74,721.33) scale(1.0000,0.64)" font-size="68.00" fill="#000" stroke="#fff" stroke-width="0.90">g</text></g>
<path d="M694.40,681.53 L694.40,711.33 C694.40,715.83 696.65,718.12 699.95,718.12 C703.05,718.12 705.05,715.73 706.45,711.93 L707.65,712.53 C706.05,717.93 703.05,720.73 698.95,720.73 C693.85,720.73 690.80,718.53 690.80,711.83 L690.80,693.43 L682.80,693.43 L682.80,691.62 C688.45,691.03 692.35,687.83 693.05,681.53Z" fill="#000"/><rect x="694.25" y="691.62" width="10.95" height="1.8" fill="#000"/>
<text transform="translate(713.22,721.33) scale(0.9556,0.96)" font-size="68.00" fill="#000" stroke="#fff" stroke-width="0.79">h</text>
<path d="M811.25,670.62 C801.35,679.33 796.45,688.33 796.45,698.62 C796.45,708.93 801.35,717.93 811.25,726.62 L812.45,725.73 C803.95,717.33 800.55,708.62 800.55,698.62 C800.55,688.62 803.95,679.93 812.45,671.53Z" fill="#000"/>
<text transform="translate(813.10,721.33) scale(1.0000,1.025)" font-size="68.00" fill="#000" stroke="#fff" stroke-width="0.90">1</text>
<text transform="translate(847.95,721.33) scale(1.0000,1.025)" font-size="68.00" fill="#000" stroke="#fff" stroke-width="0.90">0</text>
<path d="M882.35,687.88a7.6,11.85 0 1,0 15.2,0a7.6,11.85 0 1,0 -15.2,0ZM886.45,687.88a3.5,10.4 0 1,0 7.0,0a3.5,10.4 0 1,0 -7.0,0ZM899.25,709.12a7.55,11.7 0 1,0 15.1,0a7.55,11.7 0 1,0 -15.1,0ZM903.40,709.12a3.4,10.3 0 1,0 6.8,0a3.4,10.3 0 1,0 -6.8,0Z" fill="#000" fill-rule="evenodd"/><line x1="888.65" y1="720.83" x2="908.35" y2="676.23" stroke="#000" stroke-width="1.9"/>
<path d="M920.35,670.62 C930.25,679.33 935.15,688.33 935.15,698.62 C935.15,708.93 930.25,717.93 920.35,726.62 L919.15,725.73 C927.65,717.33 931.05,708.62 931.05,698.62 C931.05,688.62 927.65,679.93 919.15,671.53Z" fill="#000"/>
<text transform="translate(1112.03,721.33) scale(0.5486,1.0)" font-size="68.00" fill="#000" stroke="#000" stroke-width="0.50">M</text>
<text transform="translate(1145.17,721.33) scale(0.9355,1.0)" font-size="68.00" fill="#000" stroke="#fff" stroke-width="0.68">P</text>
<text transform="translate(1179.02,721.33) scale(1.0982,0.96)" font-size="68.00" fill="#000" stroke="#fff" stroke-width="1.30">a</text>
<text transform="translate(1584.60,721.33) scale(1.0000,1.025)" font-size="68.00" fill="#000" stroke="#fff" stroke-width="0.90">1</text>
<text transform="translate(1619.75,721.33) scale(1.0000,1.025)" font-size="68.00" fill="#000" stroke="#fff" stroke-width="0.90">9</text>
<text transform="translate(238.28,1091.08) scale(0.7912,1.0)" font-size="68.00" fill="#000">T</text>
<text transform="translate(273.41,1091.08) scale(1.0000,0.96)" font-size="68.00" fill="#000" stroke="#fff" stroke-width="0.90">e</text>
<text transform="translate(305.51,1091.08) scale(0.9869,0.96)" font-size="68.00" fill="#000" stroke="#fff" stroke-width="0.90">n</text>
<text transform="translate(343.05,1091.08) scale(1.0000,0.96)" font-size="68.00" fill="#000" stroke="#fff" stroke-width="0.90">s</text>
<path d="M392.10,1059.67 L392.10,1089.08 L388.10,1089.08 L388.10,1063.38 L380.50,1063.38 L380.50,1061.48 L384.35,1061.48 C386.35,1061.28 387.55,1060.58 388.10,1059.67Z" fill="#000"/><rect x="380.50" y="1088.98" width="19.5" height="2.1" fill="#000"/><circle cx="390.50" cy="1049.62" r="3.65" fill="#000"/>
<path d="M426.40,1044.38 L426.40,1089.08 L421.90,1089.08 L421.90,1048.58 L414.30,1048.58 L414.30,1046.98 L418.25,1046.98 C420.25,1046.67 421.35,1045.78 421.90,1044.38Z" fill="#000"/><rect x="414.00" y="1088.98" width="20.55" height="2.1" fill="#000"/>
<text transform="translate(442.91,1091.08) scale(1.0000,0.96)" font-size="68.00" fill="#000" stroke="#fff" stroke-width="0.90">e</text>
<text transform="translate(512.55,1091.08) scale(1.0000,0.96)" font-size="68.00" fill="#000" stroke="#fff" stroke-width="0.90">s</text>
<path d="M558.80,1051.28 L558.80,1081.08 C558.80,1085.58 561.05,1087.88 564.35,1087.88 C567.45,1087.88 569.45,1085.48 570.85,1081.67 L572.05,1082.28 C570.45,1087.67 567.45,1090.48 563.35,1090.48 C558.25,1090.48 555.20,1088.28 555.20,1081.58 L555.20,1063.17 L547.20,1063.17 L547.20,1061.38 C552.85,1060.78 556.75,1057.58 557.45,1051.28Z" fill="#000"/><rect x="558.65" y="1061.38" width="10.95" height="1.8" fill="#000"/>
<text transform="translate(581.87,1091.08) scale(1.0152,0.96)" font-size="68.00" fill="#000" stroke="#fff" stroke-width="1.07">r</text>
<text transform="translate(612.41,1091.08) scale(1.0000,0.96)" font-size="68.00" fill="#000" stroke="#fff" stroke-width="0.90">e</text>
<text transform="translate(644.51,1091.08) scale(0.9869,0.96)" font-size="68.00" fill="#000" stroke="#fff" stroke-width="0.90">n</text>
<g clip-path="url(#cl184u)"><text transform="translate(677.64,1091.08) scale(1.0000,0.96)" font-size="68.00" fill="#000" stroke="#fff" stroke-width="0.90">g</text></g><g clip-path="url(#cl184d)"><text transform="translate(677.64,1091.08) scale(1.0000,0.64)" font-size="68.00" fill="#000" stroke="#fff" stroke-width="0.90">g</text></g>
<path d="M728.30,1051.28 L728.30,1081.08 C728.30,1085.58 730.55,1087.88 733.85,1087.88 C736.95,1087.88 738.95,1085.48 740.35,1081.67 L741.55,1082.28 C739.95,1087.67 736.95,1090.48 732.85,1090.48 C727.75,1090.48 724.70,1088.28 724.70,1081.58 L724.70,1063.17 L716.70,1063.17 L716.70,1061.38 C722.35,1060.78 726.25,1057.58 726.95,1051.28Z" fill="#000"/><rect x="728.15" y="1061.38" width="10.95" height="1.8" fill="#000"/>
<text transform="translate(747.12,1091.08) scale(0.9556,0.96)" font-size="68.00" fill="#000" stroke="#fff" stroke-width="0.79">h</text>
<text transform="translate(1112.03,1091.08) scale(0.5486,1.0)" font-size="68.00" fill="#000" stroke="#000" stroke-width="0.50">M</text>
<text transform="translate(1145.17,1091.08) scale(0.9355,1.0)" font-size="68.00" fill="#000" stroke="#fff" stroke-width="0.68">P</text>
<text transform="translate(1179.02,1091.08) scale(1.0982,0.96)" font-size="68.00" fill="#000" stroke="#fff" stroke-width="1.30">a</text>
<text transform="translate(1602.70,1091.08) scale(0.9807,1.025)" font-size="68.00" fill="#000" stroke="#fff" stroke-width="0.90">4</text>
<text transform="translate(1978.74,413.20) scale(0.7015,1.0)" font-size="68.00" fill="#000" stroke="#000" stroke-width="0.21">G</text>
<text transform="translate(2013.08,413.20) scale(0.7735,1.0)" font-size="68.00" fill="#000" stroke="#000" stroke-width="0.08">B</text>
<line x1="2051.80" y1="417.60" x2="2076.20" y2="364.80" stroke="#000" stroke-width="2.6"/>
<text transform="translate(2081.43,413.20) scale(0.7912,1.0)" font-size="68.00" fill="#000">T</text>
<text transform="translate(2147.75,413.20) scale(1.0000,1.025)" font-size="68.00" fill="#000" stroke="#fff" stroke-width="0.90">1</text>
<text transform="translate(2182.60,413.20) scale(1.0000,1.025)" font-size="68.00" fill="#000" stroke="#fff" stroke-width="0.90">0</text>
<text transform="translate(2216.88,413.20) scale(1.0000,1.025)" font-size="68.00" fill="#000" stroke="#fff" stroke-width="0.90">2</text>
<text transform="translate(2250.70,413.20) scale(1.0000,1.025)" font-size="68.00" fill="#000" stroke="#fff" stroke-width="0.90">9</text>
<text transform="translate(2284.50,413.20) scale(0.9807,1.025)" font-size="68.00" fill="#000" stroke="#fff" stroke-width="0.90">4</text>
<rect x="2320.90" y="388.80" width="28.6" height="2.6" fill="#000"/>
<text transform="translate(2352.48,413.20) scale(1.0000,1.025)" font-size="68.00" fill="#000" stroke="#fff" stroke-width="0.90">2</text>
<text transform="translate(2386.00,413.20) scale(1.0000,1.025)" font-size="68.00" fill="#000" stroke="#fff" stroke-width="0.90">0</text>
<text transform="translate(2419.90,413.20) scale(1.0000,1.025)" font-size="68.00" fill="#000" stroke="#fff" stroke-width="0.90">0</text>
<text transform="translate(2453.80,413.20) scale(1.0000,1.025)" font-size="68.00" fill="#000" stroke="#fff" stroke-width="0.90">8</text>
<text transform="translate(1995.69,659.70) scale(0.7015,1.0)" font-size="68.00" fill="#000" stroke="#000" stroke-width="0.21">G</text>
<text transform="translate(2030.03,659.70) scale(0.7735,1.0)" font-size="68.00" fill="#000" stroke="#000" stroke-width="0.08">B</text>
<line x1="2068.75" y1="664.10" x2="2093.15" y2="611.30" stroke="#000" stroke-width="2.6"/>
<text transform="translate(2098.38,659.70) scale(0.7912,1.0)" font-size="68.00" fill="#000">T</text>
<text transform="translate(2165.65,659.70) scale(1.0000,1.025)" font-size="68.00" fill="#000" stroke="#fff" stroke-width="0.90">8</text>
<text transform="translate(2199.55,659.70) scale(1.0000,1.025)" font-size="68.00" fill="#000" stroke="#fff" stroke-width="0.90">8</text>
<text transform="translate(2232.50,659.70) scale(1.0000,1.025)" font-size="68.00" fill="#000" stroke="#fff" stroke-width="0.90">1</text>
<text transform="translate(2267.05,659.70) scale(1.0000,1.025)" font-size="68.00" fill="#000" stroke="#fff" stroke-width="0.90">3</text>
<rect x="2303.95" y="635.30" width="28.6" height="2.6" fill="#000"/>
<text transform="translate(2335.53,659.70) scale(1.0000,1.025)" font-size="68.00" fill="#000" stroke="#fff" stroke-width="0.90">2</text>
<text transform="translate(2369.05,659.70) scale(1.0000,1.025)" font-size="68.00" fill="#000" stroke="#fff" stroke-width="0.90">0</text>
<text transform="translate(2402.95,659.70) scale(1.0000,1.025)" font-size="68.00" fill="#000" stroke="#fff" stroke-width="0.90">0</text>
<text transform="translate(2436.85,659.70) scale(1.0000,1.025)" font-size="68.00" fill="#000" stroke="#fff" stroke-width="0.90">8</text>
<text transform="translate(1995.69,906.20) scale(0.7015,1.0)" font-size="68.00" fill="#000" stroke="#000" stroke-width="0.21">G</text>
<text transform="translate(2030.03,906.20) scale(0.7735,1.0)" font-size="68.00" fill="#000" stroke="#000" stroke-width="0.08">B</text>
<line x1="2068.75" y1="910.60" x2="2093.15" y2="857.80" stroke="#000" stroke-width="2.6"/>
<text transform="translate(2098.38,906.20) scale(0.7912,1.0)" font-size="68.00" fill="#000">T</text>
<text transform="translate(2165.65,906.20) scale(1.0000,1.025)" font-size="68.00" fill="#000" stroke="#fff" stroke-width="0.90">8</text>
<text transform="translate(2199.55,906.20) scale(1.0000,1.025)" font-size="68.00" fill="#000" stroke="#fff" stroke-width="0.90">8</text>
<text transform="translate(2232.50,906.20) scale(1.0000,1.025)" font-size="68.00" fill="#000" stroke="#fff" stroke-width="0.90">1</text>
<text transform="translate(2266.40,906.20) scale(1.0000,1.025)" font-size="68.00" fill="#000" stroke="#fff" stroke-width="0.90">1</text>
<rect x="2303.95" y="881.80" width="28.6" height="2.6" fill="#000"/>
<text transform="translate(2335.53,906.20) scale(1.0000,1.025)" font-size="68.00" fill="#000" stroke="#fff" stroke-width="0.90">2</text>
<text transform="translate(2369.05,906.20) scale(1.0000,1.025)" font-size="68.00" fill="#000" stroke="#fff" stroke-width="0.90">0</text>
<text transform="translate(2402.95,906.20) scale(1.0000,1.025)" font-size="68.00" fill="#000" stroke="#fff" stroke-width="0.90">0</text>
<text transform="translate(2436.85,906.20) scale(1.0000,1.025)" font-size="68.00" fill="#000" stroke="#fff" stroke-width="0.90">8</text>
<text transform="translate(2029.59,1091.08) scale(0.7015,1.0)" font-size="68.00" fill="#000" stroke="#000" stroke-width="0.21">G</text>
<text transform="translate(2063.93,1091.08) scale(0.7735,1.0)" font-size="68.00" fill="#000" stroke="#000" stroke-width="0.08">B</text>
<text transform="translate(2132.05,1091.08) scale(1.0000,1.025)" font-size="68.00" fill="#000" stroke="#fff" stroke-width="0.90">9</text>
<text transform="translate(2165.20,1091.08) scale(1.0000,1.025)" font-size="68.00" fill="#000" stroke="#fff" stroke-width="0.90">6</text>
<text transform="translate(2199.75,1091.08) scale(0.9807,1.025)" font-size="68.00" fill="#000" stroke="#fff" stroke-width="0.90">4</text>
<text transform="translate(2232.50,1091.08) scale(1.0000,1.025)" font-size="68.00" fill="#000" stroke="#fff" stroke-width="0.90">1</text>
<rect x="2270.05" y="1066.67" width="28.6" height="2.6" fill="#000"/>
<text transform="translate(2300.30,1091.08) scale(1.0000,1.025)" font-size="68.00" fill="#000" stroke="#fff" stroke-width="0.90">1</text>
<text transform="translate(2335.45,1091.08) scale(1.0000,1.025)" font-size="68.00" fill="#000" stroke="#fff" stroke-width="0.90">9</text>
<text transform="translate(2369.05,1091.08) scale(1.0000,1.025)" font-size="68.00" fill="#000" stroke="#fff" stroke-width="0.90">8</text>
<text transform="translate(2402.95,1091.08) scale(1.0000,1.025)" font-size="68.00" fill="#000" stroke="#fff" stroke-width="0.90">8</text>
<text transform="translate(26.63,864.70) scale(0.6978,1.0)" font-size="68.00" fill="#000" stroke="#000" stroke-width="0.22">D</text>
<path d="M79.15,833.30 L79.15,862.70 L75.15,862.70 L75.15,837.00 L67.55,837.00 L67.55,835.10 L71.40,835.10 C73.40,834.90 74.60,834.20 75.15,833.30Z" fill="#000"/><rect x="67.55" y="862.60" width="19.5" height="2.1" fill="#000"/><circle cx="77.55" cy="823.25" r="3.65" fill="#000"/>
<text transform="translate(94.92,864.70) scale(0.6151,0.96)" font-size="68.00" fill="#000" stroke="#000" stroke-width="0.41">m</text>
<text transform="translate(129.96,864.70) scale(1.0000,0.96)" font-size="68.00" fill="#000" stroke="#fff" stroke-width="0.90">e</text>
<text transform="translate(162.06,864.70) scale(0.9869,0.96)" font-size="68.00" fill="#000" stroke="#fff" stroke-width="0.90">n</text>
<text transform="translate(199.60,864.70) scale(1.0000,0.96)" font-size="68.00" fill="#000" stroke="#fff" stroke-width="0.90">s</text>
<path d="M248.65,833.30 L248.65,862.70 L244.65,862.70 L244.65,837.00 L237.05,837.00 L237.05,835.10 L240.90,835.10 C242.90,834.90 244.10,834.20 244.65,833.30Z" fill="#000"/><rect x="237.05" y="862.60" width="19.5" height="2.1" fill="#000"/><circle cx="247.05" cy="823.25" r="3.65" fill="#000"/>
<text transform="translate(263.80,864.70) scale(1.0000,0.96)" font-size="68.00" fill="#000" stroke="#fff" stroke-width="0.90">o</text>
<text transform="translate(297.66,864.70) scale(0.9869,0.96)" font-size="68.00" fill="#000" stroke="#fff" stroke-width="0.90">n</text>
<text transform="translate(331.22,864.70) scale(1.0982,0.96)" font-size="68.00" fill="#000" stroke="#fff" stroke-width="1.30">a</text>
<path d="M384.65,818.00 L384.65,862.70 L380.15,862.70 L380.15,822.20 L372.55,822.20 L372.55,820.60 L376.50,820.60 C378.50,820.30 379.60,819.40 380.15,818.00Z" fill="#000"/><rect x="372.25" y="862.60" width="20.55" height="2.1" fill="#000"/>
<text transform="translate(64.00,947.70) scale(1.0000,0.96)" font-size="68.00" fill="#000" stroke="#fff" stroke-width="0.90">s</text>
<path d="M110.25,907.90 L110.25,937.70 C110.25,942.20 112.50,944.50 115.80,944.50 C118.90,944.50 120.90,942.10 122.30,938.30 L123.50,938.90 C121.90,944.30 118.90,947.10 114.80,947.10 C109.70,947.10 106.65,944.90 106.65,938.20 L106.65,919.80 L98.65,919.80 L98.65,918.00 C104.30,917.40 108.20,914.20 108.90,907.90Z" fill="#000"/><rect x="110.10" y="918.00" width="10.95" height="1.8" fill="#000"/>
<text transform="translate(127.82,947.70) scale(1.0982,0.96)" font-size="68.00" fill="#000" stroke="#fff" stroke-width="1.30">a</text>
<text transform="translate(163.60,947.70) scale(0.9869,0.96)" font-size="68.00" fill="#000" stroke="#fff" stroke-width="0.90">b</text>
<path d="M214.75,916.30 L214.75,945.70 L210.75,945.70 L210.75,920.00 L203.15,920.00 L203.15,918.10 L207.00,918.10 C209.00,917.90 210.20,917.20 210.75,916.30Z" fill="#000"/><rect x="203.15" y="945.60" width="19.5" height="2.1" fill="#000"/><circle cx="213.15" cy="906.25" r="3.65" fill="#000"/>
<path d="M249.05,901.00 L249.05,945.70 L244.55,945.70 L244.55,905.20 L236.95,905.20 L236.95,903.60 L240.90,903.60 C242.90,903.30 244.00,902.40 244.55,901.00Z" fill="#000"/><rect x="236.65" y="945.60" width="20.55" height="2.1" fill="#000"/>
<path d="M282.55,916.30 L282.55,945.70 L278.55,945.70 L278.55,920.00 L270.95,920.00 L270.95,918.10 L274.80,918.10 C276.80,917.90 278.00,917.20 278.55,916.30Z" fill="#000"/><rect x="270.95" y="945.60" width="19.5" height="2.1" fill="#000"/><circle cx="280.95" cy="906.25" r="3.65" fill="#000"/>
<path d="M313.65,907.90 L313.65,937.70 C313.65,942.20 315.90,944.50 319.20,944.50 C322.30,944.50 324.30,942.10 325.70,938.30 L326.90,938.90 C325.30,944.30 322.30,947.10 318.20,947.10 C313.10,947.10 310.05,944.90 310.05,938.20 L310.05,919.80 L302.05,919.80 L302.05,918.00 C307.70,917.40 311.60,914.20 312.30,907.90Z" fill="#000"/><rect x="313.50" y="918.00" width="10.95" height="1.8" fill="#000"/>
<g clip-path="url(#cl261u)"><text transform="translate(332.32,947.70) scale(0.9421,0.96)" font-size="68.00" fill="#000" stroke="#fff" stroke-width="0.72">y</text></g><g clip-path="url(#cl261d)"><text transform="translate(332.32,947.70) scale(0.9421,0.64)" font-size="68.00" fill="#000" stroke="#fff" stroke-width="0.72">y</text></g>
<path d="M486.80,793.88 C476.90,802.58 472.00,811.58 472.00,821.88 C472.00,832.18 476.90,841.18 486.80,849.88 L488.00,848.98 C479.50,840.58 476.10,831.88 476.10,821.88 C476.10,811.88 479.50,803.18 488.00,794.78Z" fill="#000"/>
<text transform="translate(522.55,844.58) scale(1.0000,1.025)" font-size="68.00" fill="#000" stroke="#fff" stroke-width="0.90">1</text>
<text transform="translate(557.40,844.58) scale(1.0000,1.025)" font-size="68.00" fill="#000" stroke="#fff" stroke-width="0.90">0</text>
<text transform="translate(591.30,844.58) scale(1.0000,1.025)" font-size="68.00" fill="#000" stroke="#fff" stroke-width="0.90">0</text>
<rect x="636.65" y="817.28" width="45" height="3.1" fill="#000"/><rect x="657.60" y="796.98" width="3.1" height="41.2" fill="#000"/><rect x="636.65" y="843.48" width="45" height="3.1" fill="#000"/>
<text transform="translate(692.70,844.58) scale(1.0000,1.025)" font-size="68.00" fill="#000" stroke="#fff" stroke-width="0.90">3</text>
<path d="M731.50,793.88 C741.40,802.58 746.30,811.58 746.30,821.88 C746.30,832.18 741.40,841.18 731.50,849.88 L730.30,848.98 C738.80,840.58 742.20,831.88 742.20,821.88 C742.20,811.88 738.80,803.18 730.30,794.78Z" fill="#000"/>
<circle cx="776.15" cy="803.28" r="4.8" fill="none" stroke="#000" stroke-width="2.4"/>
<text transform="translate(778.59,844.58) scale(0.9210,1.0)" font-size="70.38" fill="#000" stroke="#fff" stroke-width="0.61">C</text>
<text transform="translate(862.70,844.58) scale(0.9807,1.025)" font-size="68.00" fill="#000" stroke="#fff" stroke-width="0.90">4</text>
<text transform="translate(896.40,844.58) scale(1.0000,1.025)" font-size="68.00" fill="#000" stroke="#fff" stroke-width="0.90">8</text>
<text transform="translate(931.17,844.58) scale(0.9556,0.96)" font-size="68.00" fill="#000" stroke="#fff" stroke-width="0.79">h</text>
<path d="M520.70,917.12 C510.80,925.83 505.90,934.83 505.90,945.12 C505.90,955.43 510.80,964.43 520.70,973.12 L521.90,972.23 C513.40,963.83 510.00,955.12 510.00,945.12 C510.00,935.12 513.40,926.43 521.90,918.03Z" fill="#000"/>
<text transform="translate(523.20,967.83) scale(1.0000,1.025)" font-size="68.00" fill="#000" stroke="#fff" stroke-width="0.90">3</text>
<text transform="translate(557.40,967.83) scale(1.0000,1.025)" font-size="68.00" fill="#000" stroke="#fff" stroke-width="0.90">0</text>
<rect x="602.75" y="940.53" width="45" height="3.1" fill="#000"/><rect x="623.70" y="920.23" width="3.1" height="41.2" fill="#000"/><rect x="602.75" y="966.73" width="45" height="3.1" fill="#000"/>
<text transform="translate(658.80,967.83) scale(1.0000,1.025)" font-size="68.00" fill="#000" stroke="#fff" stroke-width="0.90">3</text>
<path d="M697.60,917.12 C707.50,925.83 712.40,934.83 712.40,945.12 C712.40,955.43 707.50,964.43 697.60,973.12 L696.40,972.23 C704.90,963.83 708.30,955.12 708.30,945.12 C708.30,935.12 704.90,926.43 696.40,918.03Z" fill="#000"/>
<circle cx="742.25" cy="926.53" r="4.8" fill="none" stroke="#000" stroke-width="2.4"/>
<text transform="translate(744.69,967.83) scale(0.9210,1.0)" font-size="70.38" fill="#000" stroke="#fff" stroke-width="0.61">C</text>
<text transform="translate(828.98,967.83) scale(1.0000,1.025)" font-size="68.00" fill="#000" stroke="#fff" stroke-width="0.90">2</text>
<text transform="translate(862.70,967.83) scale(0.9807,1.025)" font-size="68.00" fill="#000" stroke="#fff" stroke-width="0.90">4</text>
<text transform="translate(897.27,967.83) scale(0.9556,0.96)" font-size="68.00" fill="#000" stroke="#fff" stroke-width="0.79">h</text>
<path d="M1146.00,872.75a7.6,11.85 0 1,0 15.2,0a7.6,11.85 0 1,0 -15.2,0ZM1150.10,872.75a3.5,10.4 0 1,0 7.0,0a3.5,10.4 0 1,0 -7.0,0ZM1162.90,894.00a7.55,11.7 0 1,0 15.1,0a7.55,11.7 0 1,0 -15.1,0ZM1167.05,894.00a3.4,10.3 0 1,0 6.8,0a3.4,10.3 0 1,0 -6.8,0Z" fill="#000" fill-rule="evenodd"/><line x1="1152.30" y1="905.70" x2="1172.00" y2="861.10" stroke="#000" stroke-width="1.9"/>
<text transform="translate(1601.55,906.20) scale(1.0000,1.025)" font-size="68.00" fill="#000" stroke="#fff" stroke-width="0.90">1</text>
</g>
<g stroke="#000" stroke-width="1.5" stroke-dasharray="4.3 1.7" fill="none">
<line x1="12" y1="12.30" x2="2548" y2="12.30"/>
<line x1="12" y1="138.50" x2="2548" y2="138.50"/>
<line x1="12" y1="261.80" x2="2548" y2="261.80"/>
<line x1="12" y1="385.05" x2="1921" y2="385.05"/>
<line x1="12" y1="508.40" x2="2548" y2="508.40"/>
<line x1="12" y1="631.60" x2="1921" y2="631.60"/>
<line x1="12" y1="754.85" x2="2548" y2="754.85"/>
<line x1="414" y1="878.10" x2="1007" y2="878.10"/>
<line x1="12" y1="1001.30" x2="2548" y2="1001.30"/>
<line x1="12" y1="1124.50" x2="2548" y2="1124.50"/>
<line x1="12.30" y1="12" x2="12.30" y2="1125"/>
<line x1="2547.50" y1="12" x2="2547.50" y2="1125"/>
<line x1="1006.40" y1="138" x2="1006.40" y2="1125"/>
<line x1="1319.25" y1="138" x2="1319.25" y2="1125"/>
<line x1="1920.35" y1="138" x2="1920.35" y2="1125"/>
<line x1="414.50" y1="754" x2="414.50" y2="1002"/>
</g>
</svg>
</body></html>
